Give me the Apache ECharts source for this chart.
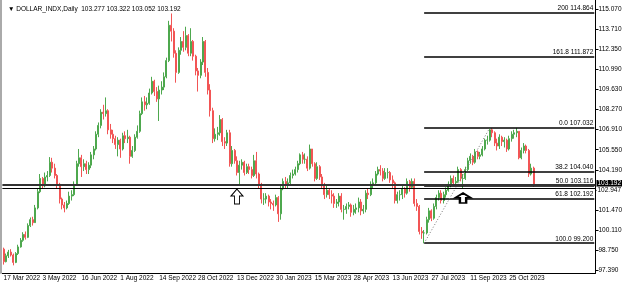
<!DOCTYPE html>
<html>
<head>
<meta charset="utf-8">
<script src="https://cdn.jsdelivr.net/npm/echarts@6/dist/echarts.min.js"></script>
<style>
html, body { margin: 0; padding: 0; background: #fff; }
#chart { width: 625px; height: 286px; }
</style>
</head>
<body>
<div id="chart"></div>
<script>
// date labels on the time axis, one every 16 bars (2 trading days per bar)
var tickLabels = ['17 Mar 2022', '3 May 2022', '16 Jun 2022', '1 Aug 2022', '14 Sep 2022', '28 Oct 2022',
  '13 Dec 2022', '30 Jan 2023', '15 Mar 2023', '28 Apr 2023', '13 Jun 2023', '27 Jul 2023', '11 Sep 2023', '25 Oct 2023'];
// price scale ticks (102.830 is covered by the price labels)
var priceTicks = [97.39, 98.75, 100.11, 101.47, 102.83, 104.19, 105.55, 106.91, 108.27, 109.63, 110.99, 112.35, 113.71, 115.07];
var priceLabels = [97.39, 98.75, 100.11, 101.47, 104.19, 105.55, 106.91, 108.27, 109.63, 110.99, 112.35, 113.71, 115.07];

var firstOpen = 98.8;
var closes = [
  97.95, 98.35, 98.6, 98.4, 97.9, 98.5, 98.95, 99.4, 99.8, 99.6,
  100.4, 100.8, 100.6, 101.6, 102.7, 103.6, 103.1, 103.7, 103.8, 104.7,
  104.3, 103.8, 103.2, 102.2, 101.8, 101.6, 101.9, 102.4, 102.5, 103.2,
  104.6, 105.0, 104.4, 104.6, 104.2, 104.5, 105.2, 105.6, 106.6, 107.2,
  108.1, 108.0, 108.2, 106.9, 106.6, 106.3, 105.9, 106.2, 105.6, 106.5,
  106.3, 106.4, 105.1, 105.5, 106.4, 106.8, 108.0, 108.8, 108.6, 108.7,
  109.4, 110.2, 109.5, 109.0, 109.6, 109.8, 110.5, 111.6, 114.0, 113.6,
  112.1, 110.8, 112.3, 112.9, 112.5, 113.3, 112.1, 112.9, 111.9, 110.9,
  110.6, 111.5, 112.9, 110.8, 109.6, 108.2, 106.3, 106.6, 106.7, 107.6,
  106.1, 106.0, 106.7, 104.6, 105.5, 104.8, 104.0, 104.5, 104.7, 104.0,
  104.4, 104.2, 103.8, 104.8, 103.9, 103.2, 102.2, 102.2, 102.4, 102.0,
  101.9, 101.8, 102.3, 101.2, 102.9, 103.4, 103.2, 103.3, 103.8, 103.9,
  104.2, 104.6, 105.2, 104.9, 104.9, 104.3, 105.6, 104.6, 103.6, 104.4,
  103.7, 103.1, 102.5, 102.8, 102.5, 102.4, 101.9, 102.0, 102.4, 101.5,
  101.5, 101.7, 101.8, 101.3, 101.5, 101.6, 102.0, 101.4, 101.5, 102.6,
  102.5, 103.2, 103.3, 103.9, 104.2, 104.1, 103.6, 104.0, 104.0, 103.5,
  103.3, 102.1, 102.5, 102.5, 102.9, 102.6, 103.4, 103.0, 103.4, 101.9,
  101.7, 100.0, 99.9, 99.9, 100.8, 101.4, 100.9, 101.7, 102.3, 102.6,
  102.1, 102.5, 102.8, 103.2, 103.6, 103.3, 103.4, 104.2, 103.6, 103.6,
  104.2, 104.8, 105.1, 104.7, 105.4, 105.1, 105.2, 105.6, 106.2, 106.2,
  106.9, 106.7, 106.0, 105.8, 106.4, 106.1, 106.2, 105.6, 106.3, 106.6,
  106.7, 106.8, 105.0, 105.5, 105.8, 105.5, 103.9, 104.3, 103.19
];
var highs = [
  98.9, 98.5, 98.75, 98.8, 98.5, 98.6, 99.1, 99.55, 99.95, 100.0,
  100.55, 100.95, 101.0, 101.8, 102.9, 103.9, 103.7, 104.0, 104.1, 105.05,
  105.0, 104.6, 103.9, 103.3, 102.3, 102.0, 102.1, 102.7, 102.8, 103.4,
  104.8, 105.6, 105.2, 104.9, 104.8, 104.7, 105.4, 105.8, 106.8, 107.4,
  108.3, 108.6, 109.1, 108.3, 107.3, 106.9, 106.5, 106.4, 106.3, 106.7,
  106.8, 106.9, 106.5, 105.8, 106.6, 107.2, 108.2, 109.1, 109.2, 109.1,
  109.7, 110.5, 110.3, 109.8, 109.9, 110.2, 110.8, 111.8, 114.3, 114.8,
  113.8, 112.3, 112.5, 113.2, 113.6, 113.9, 113.4, 113.8, 113.0, 112.0,
  111.1, 111.7, 113.2, 113.0, 111.1, 110.0, 108.4, 107.0, 107.1, 107.9,
  107.7, 106.4, 106.9, 106.9, 105.8, 105.6, 105.1, 104.8, 104.9, 104.8,
  104.6, 104.6, 104.4, 105.2, 105.4, 104.0, 103.3, 102.6, 102.6, 102.5,
  102.2, 102.1, 102.5, 102.4, 103.1, 103.6, 103.7, 103.6, 104.0, 104.2,
  104.4, 104.8, 105.3, 105.4, 105.3, 105.1, 105.9, 105.6, 104.7, 104.7,
  104.5, 103.9, 103.3, 103.1, 102.9, 102.8, 102.6, 102.2, 102.6, 102.6,
  101.8, 101.9, 102.0, 101.9, 101.8, 101.9, 102.3, 102.2, 101.8, 102.8,
  102.9, 103.4, 103.6, 104.1, 104.4, 104.5, 104.3, 104.3, 104.3, 104.1,
  103.8, 103.4, 102.7, 102.8, 103.1, 103.0, 103.6, 103.5, 103.6, 103.6,
  102.2, 101.8, 100.3, 100.1, 101.0, 101.6, 101.5, 101.9, 102.5, 102.8,
  102.8, 102.7, 103.0, 103.4, 103.8, 103.8, 103.7, 104.4, 104.3, 103.9,
  104.4, 105.0, 105.3, 105.2, 105.6, 105.5, 105.4, 105.8, 106.3, 106.5,
  107.03, 107.0, 106.8, 106.3, 106.6, 106.5, 106.4, 106.3, 106.5, 106.8,
  106.9, 107.03, 106.8, 105.7, 106.0, 105.9, 105.6, 104.6, 104.4
];
var lows = [
  97.75, 97.9, 98.2, 98.3, 97.7, 97.85, 98.4, 98.9, 99.3, 99.45,
  99.55, 100.3, 100.4, 100.6, 101.5, 102.6, 102.9, 103.0, 103.4, 103.7,
  104.0, 103.6, 102.9, 101.9, 101.5, 101.3, 101.5, 101.8, 102.1, 102.4,
  103.1, 104.4, 103.7, 104.1, 103.9, 103.9, 104.3, 104.9, 105.5, 106.4,
  107.0, 107.6, 107.8, 106.6, 106.3, 106.0, 105.6, 105.1, 105.0, 105.5,
  106.0, 106.0, 104.6, 105.0, 105.4, 106.3, 106.7, 107.9, 108.2, 108.3,
  108.6, 109.3, 109.2, 108.8, 107.5, 109.3, 109.6, 110.4, 111.5, 112.9,
  111.8, 110.1, 110.7, 112.0, 112.2, 112.3, 111.9, 111.9, 111.6, 110.6,
  109.5, 110.4, 111.3, 110.5, 109.3, 107.8, 106.0, 106.1, 106.2, 106.5,
  105.8, 105.6, 105.8, 104.4, 104.4, 104.6, 103.8, 103.15, 104.2, 103.8,
  103.9, 103.9, 103.6, 103.7, 103.6, 102.9, 101.9, 101.8, 101.9, 101.7,
  101.5, 101.4, 101.7, 100.65, 100.8, 102.8, 102.9, 102.9, 103.2, 103.6,
  103.8, 104.0, 104.5, 104.6, 104.6, 104.1, 104.2, 104.4, 103.4, 103.5,
  103.5, 102.9, 102.2, 102.3, 102.2, 101.9, 101.6, 101.6, 101.7, 101.3,
  100.8, 101.2, 101.5, 101.0, 101.1, 101.2, 101.3, 101.1, 101.2, 101.3,
  102.2, 102.4, 102.9, 103.1, 103.8, 103.8, 103.4, 103.5, 103.6, 103.3,
  102.9, 101.9, 101.9, 102.1, 102.2, 102.3, 102.5, 102.7, 102.9, 101.7,
  101.4, 99.8, 99.5, 99.2, 99.8, 100.6, 100.7, 100.8, 101.5, 102.1,
  101.9, 101.9, 102.3, 102.7, 103.0, 103.1, 103.1, 103.3, 103.4, 102.9,
  103.5, 104.1, 104.6, 104.5, 104.6, 104.9, 104.9, 105.1, 105.5, 105.9,
  106.1, 106.4, 105.8, 105.5, 105.6, 105.8, 105.7, 105.4, 105.5, 106.1,
  106.3, 106.4, 104.9, 104.9, 105.3, 105.3, 103.7, 103.8, 103.05
];

// fibonacci retracement drawn from the July 2023 low to the October 2023 high
var fibLevels = ['200', '161.8', '0.0', '38.2', '50.0', '61.8', '100.0'];
var fibPrices = [114.864, 111.872, 107.032, 104.040, 103.116, 102.192, 99.200];
var fibLowBar = 173;
var fibHighBar = 200;
// horizontal lines across the whole chart
var bidPrice = 103.192;
var linePrice = 102.947;
// up arrows: [bar, price]
var arrows = [[96, 102.37], [189, 102.27]];

var totalBars = 244; // empty space to the right of the last bar
var UP = '#4ea84e';
var DOWN = '#f25555';
var FONT = 'Liberation Sans';

var categories = [];
for (var i = 0; i < totalBars; i++) categories.push('b' + i);

var candles = [];
for (var j = 0; j < closes.length; j++) {
  var open = j === 0 ? firstOpen : closes[j - 1];
  candles.push([open, closes[j], lows[j], highs[j]]);
}

var lastCat = categories[totalBars - 1];
var lines = [];
fibPrices.forEach(function (p, k) {
  lines.push([
    {
      coord: [categories[fibLowBar], p],
      lineStyle: { color: '#000', width: 1.5, type: 'solid' },
      label: {
        show: true, position: 'insideEndTop', distance: 1,
        formatter: fibLevels[k] + ' ' + p.toFixed(3),
        fontSize: 6.5, color: '#000', fontFamily: FONT
      }
    },
    { coord: [lastCat, p] }
  ]);
});
// dotted trend line of the retracement
lines.push([
  { coord: [categories[fibLowBar], fibPrices[6]], lineStyle: { color: '#777', width: 1, type: [1, 2] }, label: { show: false } },
  { coord: [categories[fibHighBar], fibPrices[2]] }
]);
lines.push({
  yAxis: bidPrice,
  lineStyle: { color: '#333', width: 2, type: 'solid' },
  label: {
    show: true, position: 'end', distance: 1, offset: [0, -1],
    formatter: bidPrice.toFixed(3), fontSize: 6.5, color: '#fff',
    backgroundColor: '#000', padding: [0, 1], fontFamily: FONT
  }
});
lines.push({
  yAxis: linePrice,
  lineStyle: { color: '#000', width: 1, type: 'solid' },
  label: {
    show: true, position: 'end', distance: 1, offset: [0, 2],
    formatter: linePrice.toFixed(3), fontSize: 6.5, color: '#000',
    backgroundColor: '#fff', padding: [0, 1], fontFamily: FONT
  }
});

var arrowPath = 'path://M6,0 L12,7 L8.5,7 L8.5,15 L3.5,15 L3.5,7 L0,7 Z';
var points = [
  { coord: [categories[arrows[0][0]], arrows[0][1]], symbolSize: [12, 15], itemStyle: { color: '#fff', borderColor: '#000', borderWidth: 1 } },
  { coord: [categories[arrows[1][0]], arrows[1][1]], symbolSize: [15, 10], itemStyle: { color: '#fff', borderColor: '#000', borderWidth: 2 } }
];

function showTick(index) { return index % 16 === 0; }

var myChart = echarts.init(document.getElementById('chart'));
var option = {
  animation: false,
  backgroundColor: '#fff',
  title: {
    text: '\u25BC DOLLAR_INDX,Daily  103.277 103.322 103.052 103.192',
    left: 3, top: 1,
    textStyle: { fontSize: 6.5, fontWeight: 'normal', color: '#000', fontFamily: FONT }
  },
  grid: { left: 2.4, right: 25.6, top: 0, bottom: 13 },
  xAxis: {
    type: 'category',
    data: categories,
    boundaryGap: true,
    axisLine: { lineStyle: { color: '#000', width: 1 } },
    axisTick: { interval: showTick, length: 3, lineStyle: { color: '#000' } },
    axisLabel: {
      interval: showTick,
      formatter: function (v, idx) { return idx % 16 === 0 ? (tickLabels[idx / 16] || '') : ''; },
      align: 'left', margin: 2, fontSize: 6.5, color: '#000', fontFamily: FONT
    },
    splitLine: { show: false }
  },
  yAxis: [
    {
      type: 'value', position: 'right', min: 97.18, max: 115.715,
      axisLine: { show: true, lineStyle: { color: '#000' } },
      axisTick: { show: true, length: 3, customValues: priceTicks, lineStyle: { color: '#000' } },
      axisLabel: {
        customValues: priceLabels,
        formatter: function (v) { return v.toFixed(3); },
        margin: 3, fontSize: 6.5, color: '#000', fontFamily: FONT
      },
      splitLine: { show: false }
    },
    {
      type: 'value', position: 'left', offset: 1.5, min: 97.18, max: 115.715,
      axisLine: { show: true, lineStyle: { color: '#aaa', width: 2 } },
      axisTick: { show: false }, axisLabel: { show: false }, splitLine: { show: false }
    }
  ],
  series: [
    {
      type: 'candlestick',
      data: candles,
      barWidth: 1.5,
      itemStyle: { color: UP, color0: DOWN, borderColor: UP, borderColor0: DOWN, borderWidth: 1 },
      markLine: { symbol: ['none', 'none'], silent: true, data: lines },
      markPoint: {
        symbol: arrowPath, silent: true,
        label: { show: false },
        data: points
      }
    }
  ]
};
myChart.clear();
myChart.setOption(option);
</script>
</body>
</html>
